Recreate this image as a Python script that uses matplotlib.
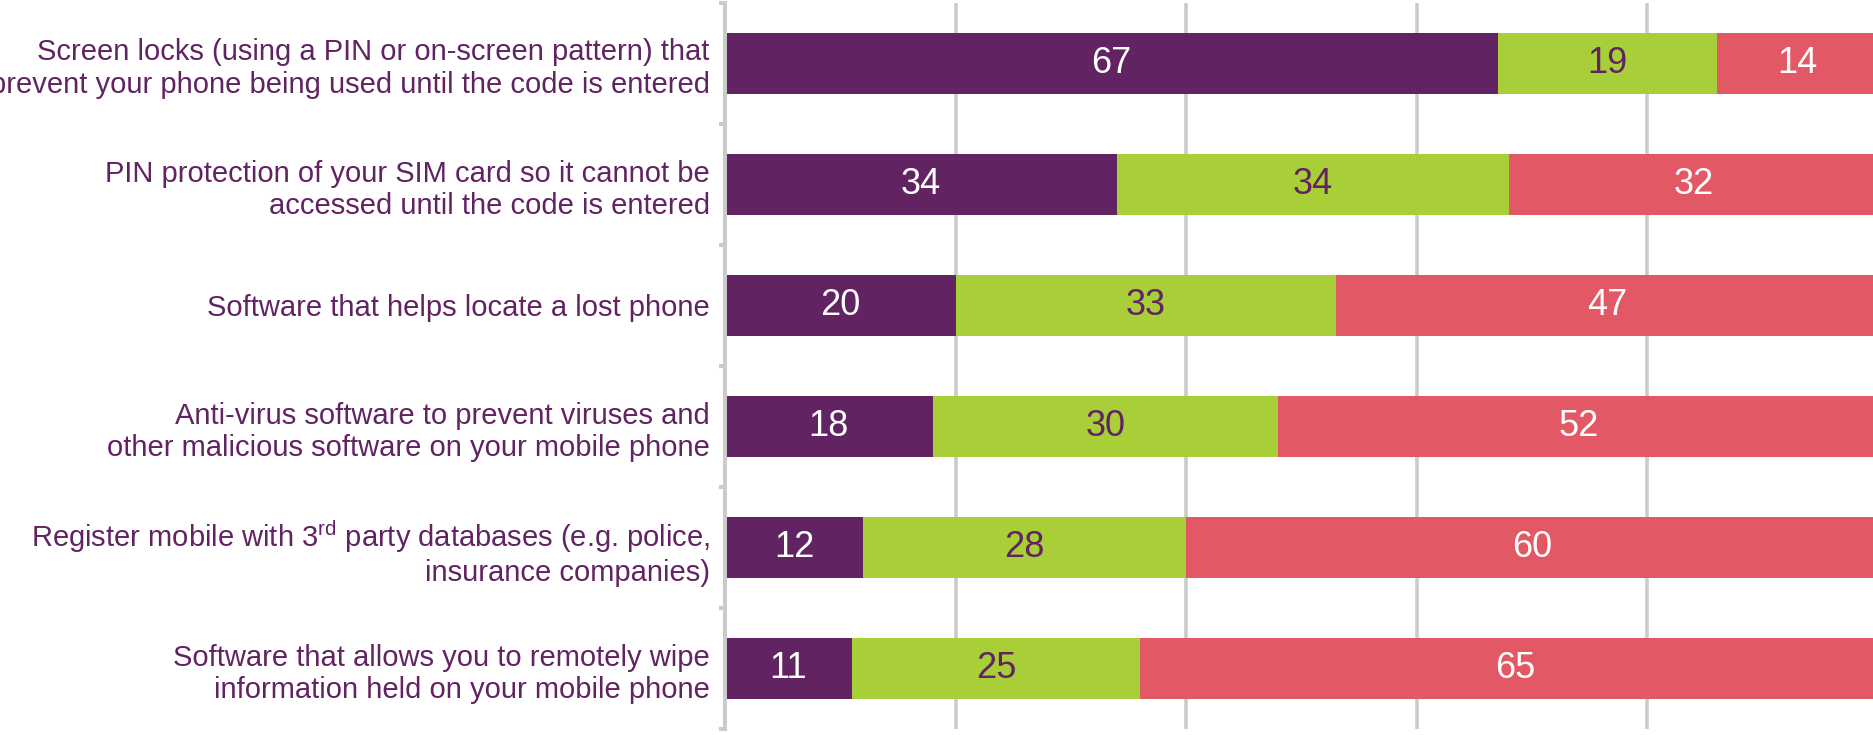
import numpy as np
import matplotlib
matplotlib.use("Agg")
import matplotlib.pyplot as plt
from matplotlib.ticker import FixedLocator

plt.rcParams["font.family"] = ["Liberation Sans", "DejaVu Sans"]
plt.rcParams["mathtext.fontset"] = "custom"
plt.rcParams["mathtext.rm"] = "Liberation Sans"
plt.rcParams["mathtext.it"] = "Liberation Sans:italic"

categories = [
    "Screen locks (using a PIN or on-screen pattern) that\nprevent your phone being used until the code is entered",
    "PIN protection of your SIM card so it cannot be\naccessed until the code is entered",
    "Software that helps locate a lost phone",
    "Anti-virus software to prevent viruses and\nother malicious software on your mobile phone",
    "Register mobile with $3^{\\mathrm{rd}}$ party databases (e.g. police,\ninsurance companies)",
    "Software that allows you to remotely wipe\ninformation held on your mobile phone",
]
use_it = [67, 34, 20, 18, 12, 11]
aware_not_used = [19, 34, 33, 30, 28, 25]
not_aware = [14, 32, 47, 52, 60, 65]

purple = "#612362"
green = "#a8cf38"
red = "#e35865"
grey = "#cbcbcb"

W, H = 1874, 735
fig = plt.figure(figsize=(W / 100, H / 100), dpi=100)
ax = fig.add_axes([725 / W, 6 / H, (1878 - 725) / W, 726 / H])

y = np.arange(len(categories))
left = np.zeros(len(categories))
series = [(use_it, purple, "white"),
          (aware_not_used, green, purple),
          (not_aware, red, "white")]
for vals, col, txtcol in series:
    vals = np.array(vals, dtype=float)
    ax.barh(y, vals, left=left, height=0.51, color=col, zorder=2)
    for yi, l, v in zip(y, left, vals):
        ax.text(l + v / 2, yi, f"{v:.0f}", ha="center", va="center",
                fontsize=26, color=txtcol, zorder=3)
    left += vals

ax.set_xlim(0, 100)
ax.set_ylim(len(categories) - 0.5, -0.5)

# gridlines behind the bars
for gx in [20, 40, 60, 80]:
    ax.axvline(gx, color=grey, lw=2.6, zorder=1, solid_capstyle="round")

ax.set_yticks(y)
ax.set_yticklabels(categories, fontsize=21, color=purple, ha="right",
                   linespacing=1.2)
ax.yaxis.set_minor_locator(FixedLocator(np.arange(-0.5, len(categories), 1.0)))
ax.tick_params(axis="y", which="major", length=0, pad=11)
ax.tick_params(axis="y", which="minor", length=4, width=2.9, color=grey)
ax.set_xticks([])

for s in ["top", "right", "bottom"]:
    ax.spines[s].set_visible(False)
ax.spines["left"].set_color(grey)
ax.spines["left"].set_linewidth(2.9)
ax.spines["left"].set_zorder(4)

fig.savefig("out.png", dpi=100)
